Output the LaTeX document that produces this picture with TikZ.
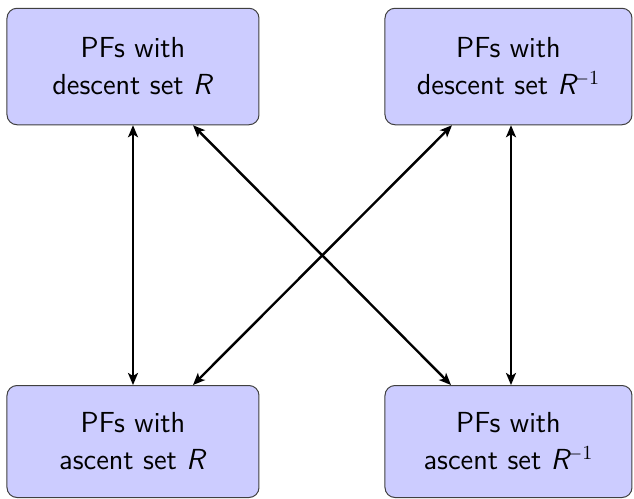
\documentclass[tikz,border=0pt]{standalone}
\usetikzlibrary{arrows.meta}
\newcommand{\Rinv}{\textit{R}\kern-2.2pt$^{-1}$}
\begin{document}
\begin{tikzpicture}[x=0.5pt,y=-0.5pt,
  pfbox/.style={draw=black!75, line width=0.5pt, fill=blue!20, rounded corners=5pt,
    inner sep=0pt, align=center, font=\fontsize{14.5}{18.5}\selectfont\sffamily},
  biarrow/.style={line width=1.2pt, {Stealth[length=6pt,width=5pt,inset=1.5pt]}-{Stealth[length=6pt,width=5pt,inset=1.5pt]}}]
\useasboundingbox (0,0) rectangle (634,499);
\node[pfbox, minimum width=126pt, minimum height=58.25pt] (tl) at (133,66.5) {PFs with\\descent set \textit{R}};
\node[pfbox, minimum width=123.5pt, minimum height=58.25pt] (tr) at (508.5,66.5) {PFs with\\descent set \Rinv};
\node[pfbox, minimum width=126pt, minimum height=56pt] (bl) at (133,441.5) {PFs with\\ascent set \textit{R}};
\node[pfbox, minimum width=123.5pt, minimum height=56pt] (br) at (508.5,441.5) {PFs with\\ascent set \Rinv};
\draw[biarrow] (tl.south) -- (bl.north);
\draw[biarrow] ([xshift=1.25pt]tr.south) -- ([xshift=1.25pt]br.north);
\draw[biarrow] ([xshift=30pt]tl.south) -- ([xshift=-28.75pt]br.north);
\draw[biarrow] ([xshift=-28.25pt]tr.south) -- ([xshift=30pt]bl.north);
\end{tikzpicture}
\end{document}
